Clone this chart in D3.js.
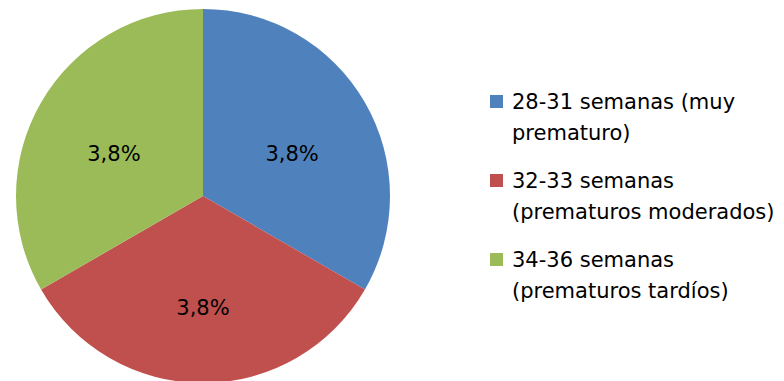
<!DOCTYPE html>
<html>
<head>
<meta charset="utf-8">
<script src="https://cdn.jsdelivr.net/npm/d3@7"></script>
<style>
  html, body { margin: 0; padding: 0; background: #fff; }
  svg { display: block; }
  text { font-family: "DejaVu Sans", Verdana, sans-serif; fill: #000; }
</style>
</head>
<body>
<svg id="chart" width="784" height="381"></svg>
<script>
// Preterm birth groups and their share
const categories = [
  ["28-31 semanas (muy", "prematuro)"],
  ["32-33 semanas", "(prematuros moderados)"],
  ["34-36 semanas", "(prematuros tardíos)"]
];
const values = [3.8, 3.8, 3.8];
const labels = ["3,8%", "3,8%", "3,8%"];
const colors = ["#4F81BD", "#C0504D", "#9BBB59"];

const svg = d3.select("#chart");
const cx = 203, cy = 196, radius = 187;

const data = values.map((v, i) => ({ value: v, label: labels[i], lines: categories[i], color: colors[i] }));

const pie = d3.pie().value(d => d.value).sort(null);
const arc = d3.arc().innerRadius(0).outerRadius(radius);
const labelArc = d3.arc().innerRadius(radius * 0.55).outerRadius(radius * 0.55);

const g = svg.append("g").attr("transform", `translate(${cx},${cy})`);
const arcs = pie(data);

g.selectAll("path.slice")
  .data(arcs)
  .join("path")
  .attr("class", "slice")
  .attr("d", arc)
  .attr("fill", d => d.data.color);

g.selectAll("text.value")
  .data(arcs)
  .join("text")
  .attr("class", "value")
  .attr("text-anchor", "middle")
  .attr("font-size", 21)
  .attr("x", d => labelArc.centroid(d)[0])
  .attr("y", d => labelArc.centroid(d)[1] + 16)
  .text(d => d.data.label);

// Legend
const legend = svg.append("g").attr("transform", "translate(490,0)");
const entryY = d3.scalePoint().domain(d3.range(data.length)).range([109, 267]);

const items = legend.selectAll("g.item")
  .data(data)
  .join("g")
  .attr("class", "item")
  .attr("transform", (d, i) => `translate(0,${entryY(i)})`);

items.append("rect")
  .attr("x", 0)
  .attr("y", -14)
  .attr("width", 13)
  .attr("height", 13)
  .attr("fill", d => d.color);

items.append("text")
  .attr("font-size", 21)
  .selectAll("tspan")
  .data(d => d.lines)
  .join("tspan")
  .attr("x", 22)
  .attr("y", (d, i) => i * 30.5)
  .text(d => d);
</script>
</body>
</html>
